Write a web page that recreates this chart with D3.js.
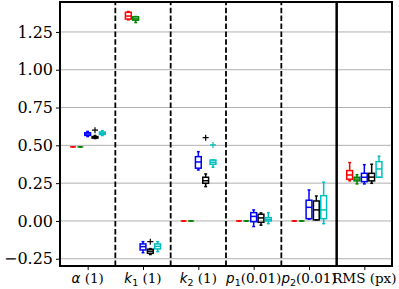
<!DOCTYPE html>
<html>
<head>
<meta charset="utf-8">
<script src="https://cdn.jsdelivr.net/npm/d3@7"></script>
<style>
  html, body { margin: 0; padding: 0; background: #fff; }
  svg { display: block; }
  text { font-family: "DejaVu Serif", serif; }
</style>
</head>
<body>
<svg id="chart" width="399" height="289"></svg>
<script>
// ---- data ----------------------------------------------------------------
// x-axis categories: symbol (math italic), subscript, unit text
const categories = [
    { sym: "α", sub: "",  unit: " (1)" },
    { sym: "k", sub: "1", unit: " (1)" },
    { sym: "k", sub: "2", unit: " (1)" },
    { sym: "p", sub: "1", unit: "(0.01)" },
    { sym: "p", sub: "2", unit: "(0.01)" },
    { sym: "",  sub: "",  unit: "RMS (px)" }
];

const seriesColors = ["#ff0000", "#008000", "#0000ff", "#000000", "#00bfbf"];

const yTicks = [-0.25, 0, 0.25, 0.5, 0.75, 1.0, 1.25];

// box stats per category: [whiskerLow, q1, median, q3, whiskerHigh]
const redStats = [
    [0.49, 0.49, 0.49, 0.49, 0.49],
    [1.33, 1.335, 1.355, 1.38, 1.385],
    [0, 0, 0, 0, 0],
    [0, 0, 0, 0, 0],
    [0, 0, 0, 0, 0],
    [0.265, 0.276, 0.304, 0.333, 0.386]
];
const greenStats = [
    [0.49, 0.49, 0.49, 0.49, 0.49],
    [1.312, 1.328, 1.336, 1.35, 1.352],
    [0, 0, 0, 0, 0],
    [0, 0, 0, 0, 0],
    [0, 0, 0, 0, 0],
    [0.245, 0.265, 0.277, 0.289, 0.306]
];
const blueStats = [
    [0.558, 0.566, 0.575, 0.583, 0.592],
    [-0.21, -0.192, -0.17, -0.152, -0.137],
    [0.337, 0.349, 0.39, 0.425, 0.458],
    [-0.037, -0.005, 0.03, 0.055, 0.073],
    [0.012, 0.015, 0.09, 0.137, 0.205],
    [0.245, 0.26, 0.289, 0.315, 0.372]
];
const blackStats = [
    [0.545, 0.548, 0.553, 0.558, 0.565],
    [-0.222, -0.214, -0.2, -0.187, -0.183],
    [0.227, 0.249, 0.266, 0.289, 0.311],
    [-0.028, -0.009, 0.02, 0.044, 0.053],
    [0.007, 0.007, 0.073, 0.132, 0.165],
    [0.249, 0.265, 0.29, 0.315, 0.375]
];
const cyanStats = [
    [0.565, 0.572, 0.58, 0.588, 0.597],
    [-0.203, -0.185, -0.168, -0.152, -0.137],
    [0.355, 0.375, 0.388, 0.403, 0.403],
    [-0.018, 0.0, 0.01, 0.022, 0.055],
    [-0.018, 0.015, 0.073, 0.167, 0.256],
    [0.289, 0.289, 0.344, 0.392, 0.428]
];

// outliers: [series index, category index, value]
const outliers = [
    [3, 0, 0.60],
    [3, 1, -0.137],
    [3, 2, 0.551],
    [4, 2, 0.503]
];

const allStats = [redStats, greenStats, blueStats, blackStats, cyanStats];

// ---- layout --------------------------------------------------------------
const margin = { left: 60, right: 7, top: 2, bottom: 23 };
const width = 399, height = 289;

const svg = d3.select("#chart");

const x = d3.scaleLinear()
    .domain([0, categories.length])
    .range([margin.left, width - margin.right]);

const y = d3.scaleLinear()
    .domain([-0.298, 1.448])
    .range([height - margin.bottom, margin.top]);

const offset = d3.scaleLinear()
    .domain([0, seriesColors.length - 1])
    .range([-0.265, 0.265]);

const boxW = 0.105;

// grid
svg.append("g")
    .selectAll("line")
    .data(yTicks)
    .join("line")
    .attr("x1", x(0)).attr("x2", x(categories.length))
    .attr("y1", d => y(d)).attr("y2", d => y(d))
    .attr("stroke", "#b0b0b0")
    .attr("stroke-width", 1);

// group dividers
svg.append("g")
    .selectAll("line")
    .data(d3.range(1, categories.length))
    .join("line")
    .attr("x1", d => x(d)).attr("x2", d => x(d))
    .attr("y1", y.range()[0]).attr("y2", y.range()[1])
    .attr("stroke", "#000")
    .attr("stroke-width", d => d === categories.length - 1 ? 2.5 : 1.8)
    .attr("stroke-dasharray", d => d === categories.length - 1 ? null : "5.5,2.4");

// boxes
const boxes = svg.append("g");
allStats.forEach((stats, si) => {
    const color = seriesColors[si];
    stats.forEach((s, ci) => {
        const cx = ci + 0.5 + offset(si);
        const g = boxes.append("g")
            .attr("stroke", color)
            .attr("stroke-width", 1.5)
            .attr("fill", "none");
        // whiskers
        g.append("line")
            .attr("x1", x(cx)).attr("x2", x(cx))
            .attr("y1", y(s[0])).attr("y2", y(s[1]));
        g.append("line")
            .attr("x1", x(cx)).attr("x2", x(cx))
            .attr("y1", y(s[3])).attr("y2", y(s[4]));
        // caps
        [s[0], s[4]].forEach(v => {
            g.append("line")
                .attr("x1", x(cx - boxW / 4)).attr("x2", x(cx + boxW / 4))
                .attr("y1", y(v)).attr("y2", y(v));
        });
        // box
        g.append("rect")
            .attr("x", x(cx - boxW / 2))
            .attr("y", y(s[3]))
            .attr("width", x(boxW) - x(0))
            .attr("height", Math.max(0, y(s[1]) - y(s[3])));
        // median
        g.append("line")
            .attr("x1", x(cx - boxW / 2)).attr("x2", x(cx + boxW / 2))
            .attr("y1", y(s[2])).attr("y2", y(s[2]));
    });
});

// outlier markers (+)
svg.append("g")
    .selectAll("path")
    .data(outliers)
    .join("path")
    .attr("d", d => {
        const px = x(d[1] + 0.5 + offset(d[0])), py = y(d[2]);
        return `M${px - 3},${py}H${px + 3}M${px},${py - 3}V${py + 3}`;
    })
    .attr("stroke", d => seriesColors[d[0]])
    .attr("stroke-width", 1.2)
    .attr("fill", "none");

// y axis
const yAxis = svg.append("g")
    .attr("transform", `translate(${margin.left},0)`)
    .call(d3.axisLeft(y).tickValues(yTicks).tickSize(4).tickPadding(3)
        .tickFormat(d => d3.format(".2f")(d).replace("-", "\u2212")));
yAxis.select(".domain").remove();
yAxis.selectAll("text")
    .attr("font-family", "DejaVu Serif")
    .attr("font-size", 16)
    .attr("fill", "#000");
yAxis.selectAll("line").attr("stroke", "#000").attr("stroke-width", 1);

// x axis ticks
const xAxis = svg.append("g")
    .attr("transform", `translate(0,${y.range()[0]})`)
    .call(d3.axisBottom(x).tickValues(d3.range(categories.length).map(i => i + 0.5))
        .tickSize(4).tickFormat(""));
xAxis.select(".domain").remove();
xAxis.selectAll("line").attr("stroke", "#000").attr("stroke-width", 1);

// x labels with math-style symbols
const labels = svg.append("g")
    .selectAll("text")
    .data(categories)
    .join("text")
    .attr("x", (d, i) => x(i + 0.5))
    .attr("y", 283)
    .attr("text-anchor", "middle")
    .attr("font-size", 13.5)
    .attr("fill", "#000");

labels.each(function (d) {
    const t = d3.select(this);
    if (d.sym) {
        t.append("tspan")
            .attr("font-family", "DejaVu Sans")
            .attr("font-style", "italic")
            .text(d.sym);
    }
    if (d.sub) {
        t.append("tspan")
            .attr("font-family", "DejaVu Sans")
            .attr("font-size", 9.5)
            .attr("dy", 3)
            .text(d.sub);
        t.append("tspan").attr("dy", -3).text(d.unit);
    } else {
        t.append("tspan").text(d.unit);
    }
});

// frame
svg.append("rect")
    .attr("x", x(0)).attr("y", y.range()[1])
    .attr("width", x(categories.length) - x(0))
    .attr("height", y.range()[0] - y.range()[1])
    .attr("fill", "none")
    .attr("stroke", "#000")
    .attr("stroke-width", 2);
</script>
</body>
</html>
